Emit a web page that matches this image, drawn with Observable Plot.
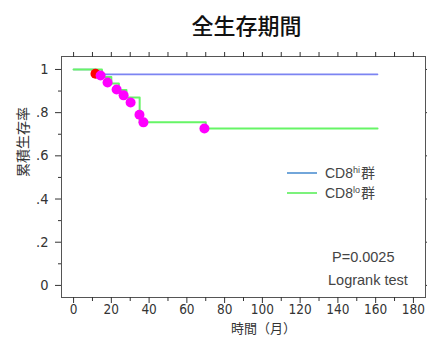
<!DOCTYPE html>
<html><head><meta charset="utf-8">
<script src="https://cdn.jsdelivr.net/npm/d3@7"></script>
<script src="https://cdn.jsdelivr.net/npm/@observablehq/plot@0.6"></script>
<style>body{margin:0;background:#fff;} svg{display:block;}</style>
</head><body><div id="chart"></div>
<script>
// CD8hi group (blue) Kaplan-Meier curve
const hiTime = [0, 12, 161];
const hiSurv = [1, 0.977, 0.977];
// CD8lo group (green) Kaplan-Meier curve
const loTime = [0, 15, 20, 24, 28, 35, 70, 161];
const loSurv = [1, 0.965, 0.935, 0.905, 0.87, 0.755, 0.727, 0.727];
// censor marks
const hiCensTime = [11.6];
const hiCensSurv = [0.98];
const loCensTime = [14.3, 18, 22.8, 26.5, 30.2, 34.9, 37, 69.3];
const loCensSurv = [0.972, 0.94, 0.907, 0.88, 0.847, 0.79, 0.755, 0.727];
// ticks
const xMajor = [0, 20, 40, 60, 80, 100, 120, 140, 160, 180];
const xMinor = [10, 30, 50, 70, 90, 110, 130, 150, 170];
const yMajor = [0, 0.2, 0.4, 0.6, 0.8, 1];
const yMinor = [0.1, 0.3, 0.5, 0.7, 0.9];
const yLabels = ["0", ".2", ".4", ".6", ".8", "1"];
const title = "全生存期間";
const yTitle = "累積生存率";
const xTitle = "時間（月）";
const seriesNames = ["hi", "lo"];
const pText = ["P=0.0025", "Logrank test"];

const hi = hiTime.map((t, i) => ({t, s: hiSurv[i]}));
const lo = loTime.map((t, i) => ({t, s: loSurv[i]}));
const hiC = hiCensTime.map((t, i) => ({t, s: hiCensSurv[i]}));
const loC = loCensTime.map((t, i) => ({t, s: loCensSurv[i]}));
const blue = "#7c84f2", green = "#66f566";
const narrow = "'Liberation Sans Narrow','DejaVu Sans Condensed',sans-serif";
const cjk = "'Noto Sans CJK JP',sans-serif";
const none = () => "";

const plot = Plot.plot({
  width: 427, height: 340,
  marginLeft: 61, marginRight: 2, marginTop: 56, marginBottom: 43,
  x: {domain: [-6.4, 186.4], label: null},
  y: {domain: [-0.056, 1.06], label: null},
  style: {fontFamily: narrow, fontSize: "14px", color: "#333", background: "#fff"},
  marks: [
    Plot.frame({stroke: "#555"}),
    Plot.axisX({ticks: xMajor, tickSize: 6, tickPadding: 1, fontSize: 13.5, tickFormat: d => String(d)}),
    Plot.axisX({ticks: xMinor, tickSize: 4, tickFormat: none}),
    Plot.axisX({anchor: "top", ticks: xMajor.concat(xMinor), tickSize: 5, tickFormat: none}),
    Plot.axisY({ticks: yMajor, tickSize: 6, tickPadding: 7, fontSize: 14.5, tickFormat: d => yLabels[yMajor.indexOf(d)]}),
    Plot.axisY({ticks: yMinor, tickSize: 3, tickFormat: none}),
    Plot.axisY({anchor: "right", ticks: yMajor, tickSize: 3, tickFormat: none}),
    Plot.line(hi, {x: "t", y: "s", curve: "step-after", stroke: blue, strokeWidth: 1.6}),
    Plot.line(lo, {x: "t", y: "s", curve: "step-after", stroke: green, strokeWidth: 2}),
    Plot.dot(hiC, {x: "t", y: "s", r: 5, fill: "#ff0000"}),
    Plot.dot(loC, {x: "t", y: "s", r: 5, fill: "#ff00ff"}),
    Plot.text([title], {frameAnchor: "top", dx: 3, dy: -38, fontSize: 22, fontFamily: cjk, fontWeight: 500, fill: "#111"}),
    Plot.text([yTitle], {frameAnchor: "left", dx: -38, rotate: -90, fontSize: 14, fontFamily: cjk, fill: "#333"}),
    Plot.text([xTitle], {frameAnchor: "bottom", dx: 20, dy: 35, fontSize: 13, fontFamily: cjk, fill: "#333"})
  ]
});
document.getElementById("chart").append(plot);

// legend and test annotation
const svg = d3.select(plot);
const lg = svg.append("g").attr("text-anchor", "start").attr("font-family", "'Liberation Sans',Arial,sans-serif").attr("font-size", 14).attr("fill", "#444");
const legendColors = ["#72a6da", "#7cf27c"];
seriesNames.forEach((n, i) => {
  const y = 173 + i * 20;
  lg.append("line").attr("x1", 287).attr("x2", 317).attr("y1", y).attr("y2", y)
    .attr("stroke", legendColors[i]).attr("stroke-width", 2);
  const t = lg.append("text").attr("x", 325).attr("y", y + 5);
  t.append("tspan").text("CD8");
  t.append("tspan").attr("font-size", 9).attr("dy", -5).text(n);
  t.append("tspan").attr("font-family", cjk).attr("font-size", 14).attr("dy", 5).attr("dx", 1).text("群");
});
const pt = svg.append("g").attr("text-anchor", "start").attr("font-family", "'Liberation Sans',Arial,sans-serif").attr("font-size", 14.5).attr("fill", "#444");
pt.append("text").attr("x", 332).attr("y", 262).text(pText[0]);
pt.append("text").attr("x", 328).attr("y", 285).text(pText[1]);
</script></body></html>
